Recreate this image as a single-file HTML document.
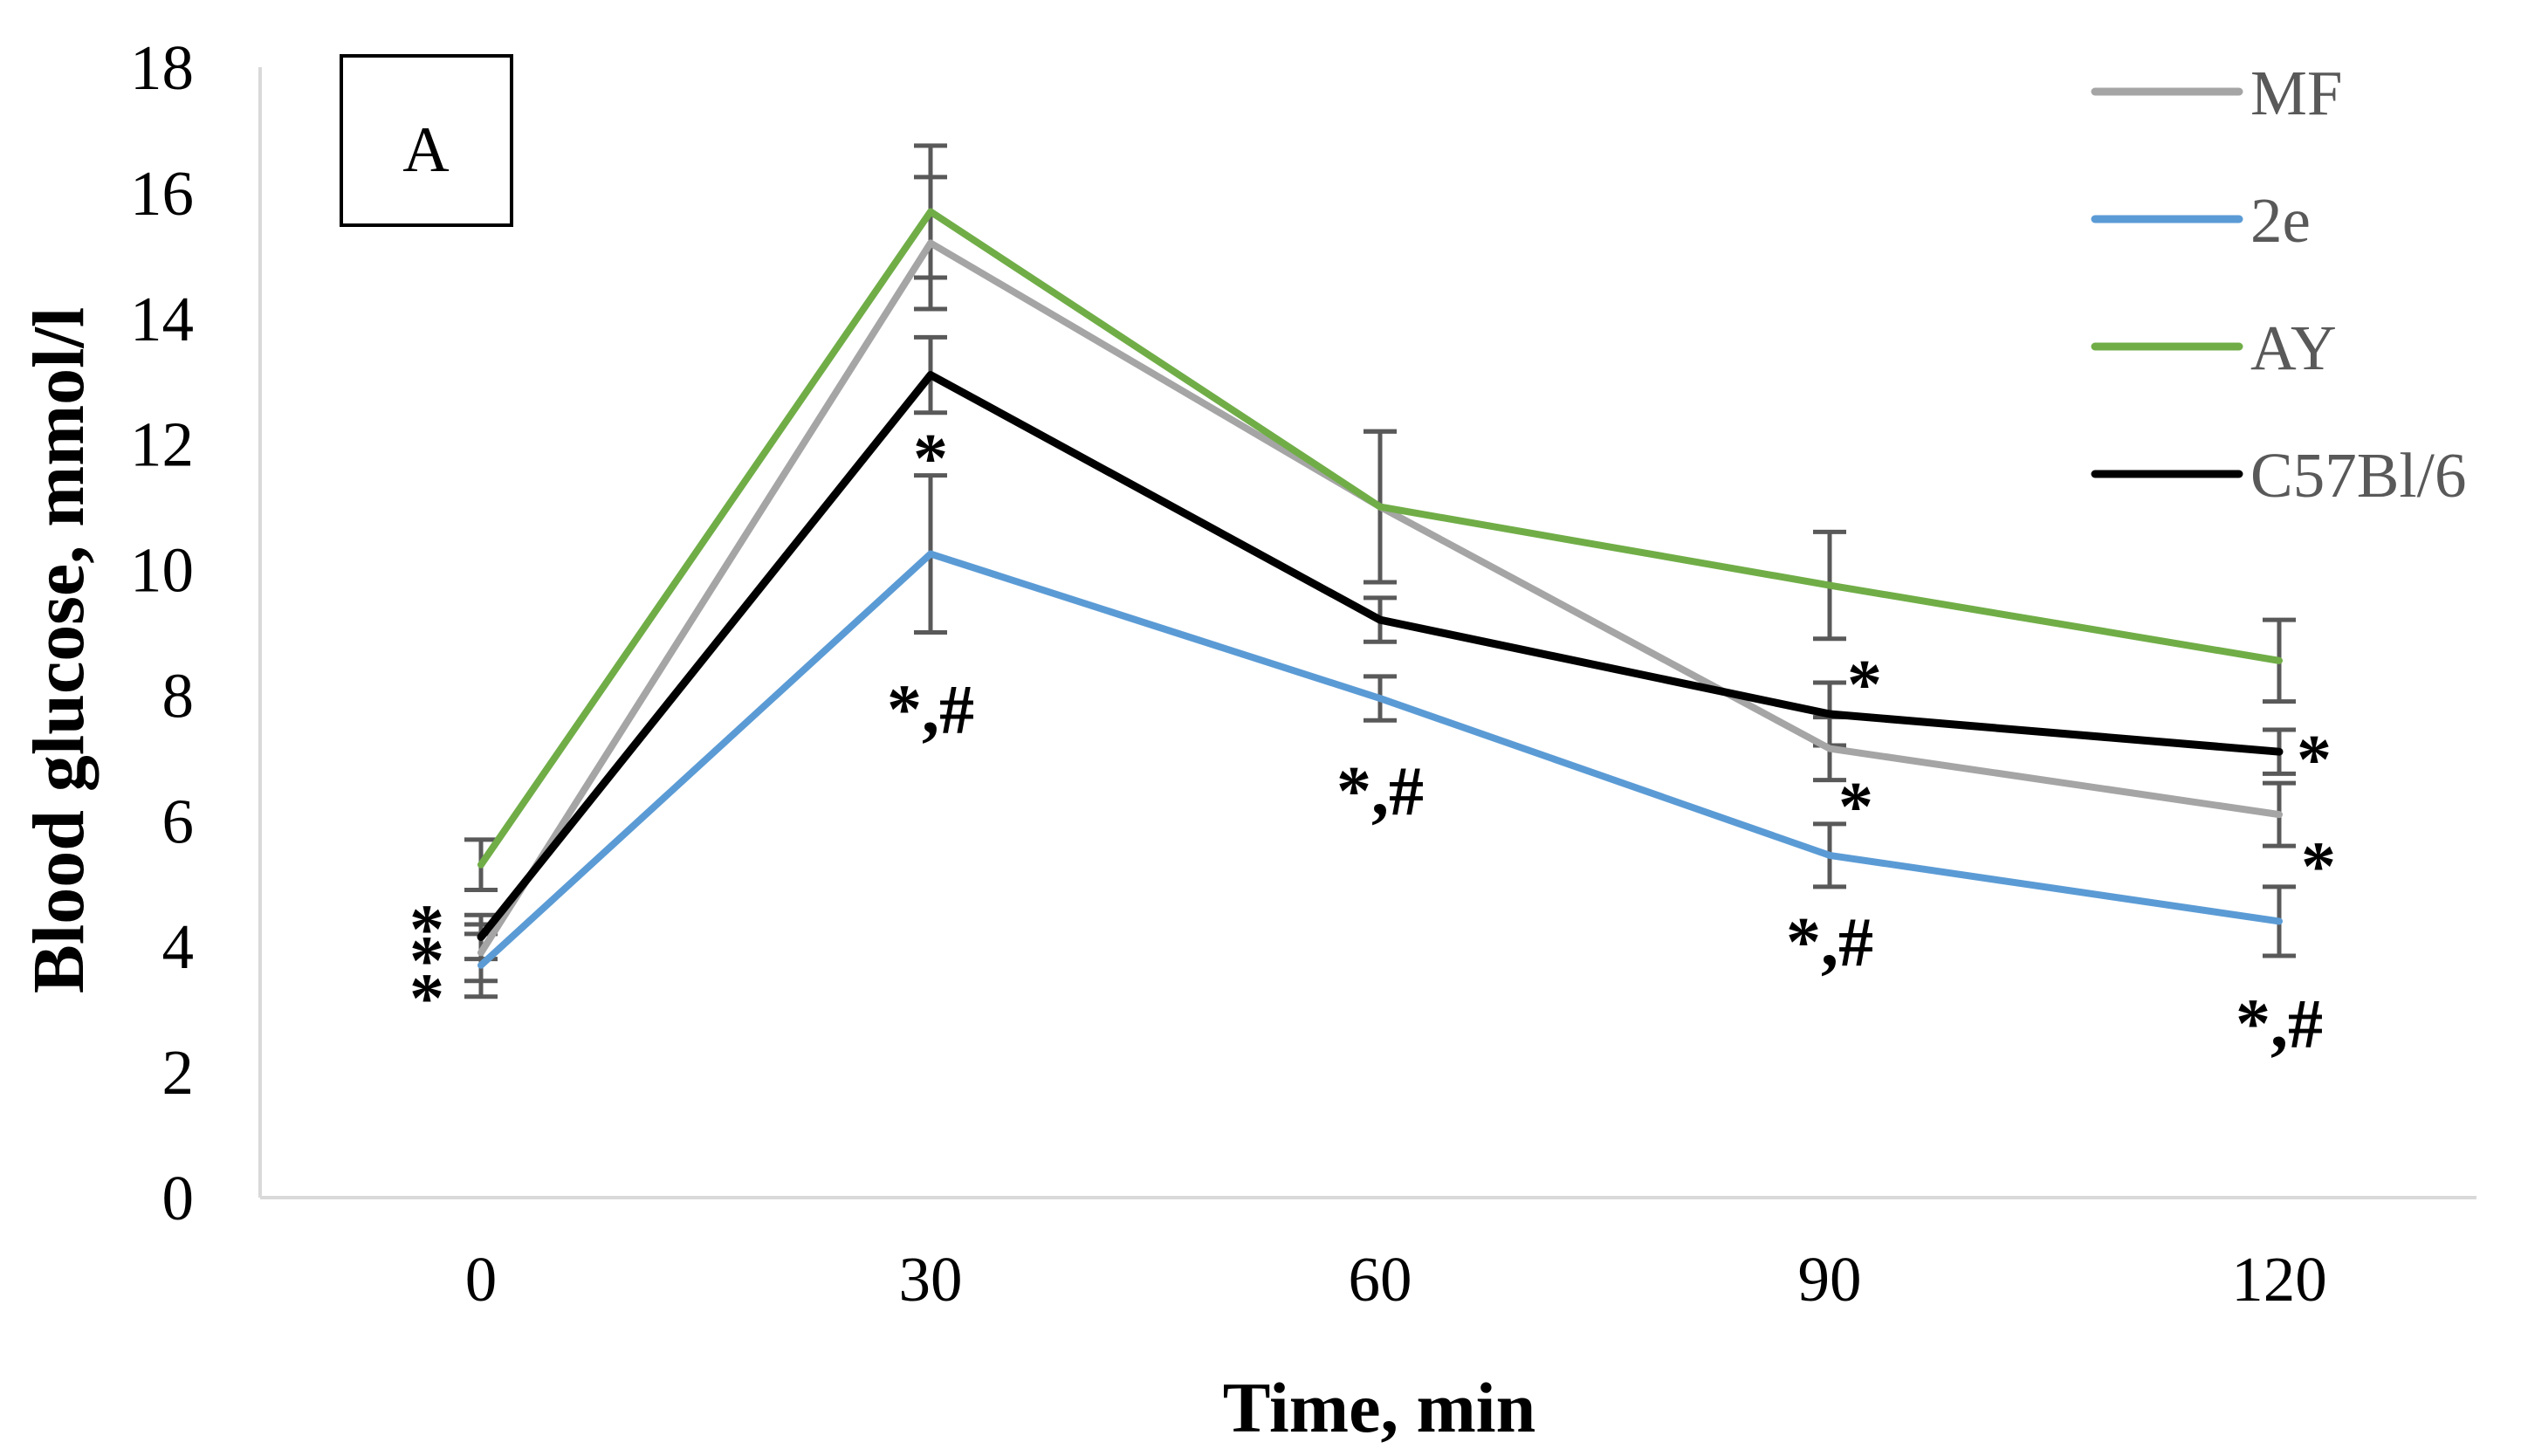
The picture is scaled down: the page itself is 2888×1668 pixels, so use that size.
<!DOCTYPE html>
<html><head><meta charset="utf-8"><style>
html,body{margin:0;padding:0;background:#fff;}
svg{display:block;font-family:"Liberation Serif",serif;}
</style></head><body>
<svg id="chart" width="2888" height="1668" viewBox="0 0 2888 1668" xmlns="http://www.w3.org/2000/svg">
<rect x="0" y="0" width="2888" height="1668" fill="#fff"/>
<g id="plot"></g>
<rect x="391" y="64" width="195" height="194" fill="none" stroke="#000" stroke-width="4"/>
<text x="488" y="196" font-size="74" text-anchor="middle">A</text>
<text x="1580" y="1640" font-size="82" font-weight="bold" text-anchor="middle">Time, min</text>
<text transform="translate(95,745) rotate(-90)" font-size="84" font-weight="bold" text-anchor="middle">Blood glucose, mmol/l</text>
</svg>
<script>
const categories = ["0","30","60","90","120"];
const yTicks = [0,2,4,6,8,10,12,14,16,18];
const seriesNames = ["MF","2e","AY","C57Bl/6"];
const seriesColors = ["#a5a5a5","#5b9bd5","#70ad47","#000000"];
const mfValues = [3.9,15.2,11.0,7.15,6.1];
const e2Values = [3.7,10.25,7.95,5.45,4.4];
const ayValues = [5.3,15.7,11.0,9.75,8.55];
const c57Values = [4.15,13.1,9.2,7.7,7.1];
const mfErr = [0.45,1.05,1.2,0.5,0.5];
const e2Err = [0.5,1.25,0.35,0.5,0.55];
const ayErr = [0.4,1.05,1.2,0.85,0.65];
const c57Err = [0.35,0.6,0.35,0.5,0.35];
const annotations = [
  {cat:0,val:4.4,text:"*"},{cat:0,val:3.9,text:"*"},{cat:0,val:3.3,text:"*"},
  {cat:1,val:11.9,text:"*"},{cat:1,val:7.9,text:"*,#"},
  {cat:2,val:6.6,text:"*,#"},
  {cat:3,val:8.3,text:"*"},{cat:3,val:6.35,text:"*"},{cat:3,val:4.2,text:"*,#"},
  {cat:4,val:7.1,text:"*"},{cat:4,val:5.4,text:"*"},{cat:4,val:2.9,text:"*,#"}
];
const annOffsets=[-62,-62,-62,0,0,0,40,30,0,40,45,0];

const NS="http://www.w3.org/2000/svg";
const X0=551, XS=515, Y0=1372, YT=77, YMAX=18, AXL=298, AXR=2837;
function xPos(i){return X0+i*XS;}
function yPos(v){return Y0-(v/YMAX)*(Y0-YT);}
const plot=document.getElementById('plot');
function mk(tag,attrs,parent){const e=document.createElementNS(NS,tag);for(const k in attrs)e.setAttribute(k,attrs[k]);(parent||plot).appendChild(e);return e;}

const yl=mk('line',{x1:AXL,y1:YT,x2:AXL,y2:Y0,stroke:'#d9d9d9','stroke-width':4});


const xl=mk('line',{x1:AXL,y1:Y0,x2:AXR,y2:Y0,stroke:'#d9d9d9','stroke-width':4});



yTicks.forEach(v=>{
  const t=mk('text',{x:222,y:yPos(v)+25,'font-size':73,'text-anchor':'end',fill:'#000'});
  t.textContent=v;
  
  
});
categories.forEach((c,i)=>{
  const t=mk('text',{x:xPos(i),y:1490,'font-size':73,'text-anchor':'middle',fill:'#000'});
  t.textContent=c;
  
  
});

const allVals=[mfValues,e2Values,ayValues,c57Values];
const allErr=[mfErr,e2Err,ayErr,c57Err];
const keys=['mf','2e','ay','c57'];
allVals.forEach((vals,s)=>{
  vals.forEach((v,i)=>{
    const g=mk('g',{});
    
    
    const x=xPos(i), a=yPos(v+allErr[s][i]), b=yPos(v-allErr[s][i]);
    mk('line',{x1:x,y1:a,x2:x,y2:b,stroke:'#595959','stroke-width':5},g);
    mk('line',{x1:x-19,y1:a,x2:x+19,y2:a,stroke:'#595959','stroke-width':5},g);
    mk('line',{x1:x-19,y1:b,x2:x+19,y2:b,stroke:'#595959','stroke-width':5},g);
  });
});
allVals.forEach((vals,s)=>{
  const p=mk('polyline',{points:vals.map((v,i)=>xPos(i)+','+yPos(v)).join(' '),fill:'none',stroke:seriesColors[s],'stroke-width':s==3?9:8,'stroke-linejoin':'round','stroke-linecap':'round'});
  
  
});
annotations.forEach((a,k)=>{
  const t=mk('text',{x:xPos(a.cat)+annOffsets[k],y:yPos(a.val)+36,'font-size':80,'font-weight':'bold','text-anchor':'middle',fill:'#000'});
  t.textContent=a.text;
  
  
});
seriesNames.forEach((n,s)=>{
  const y=105+s*146;
  const g=mk('g',{});
  
  
  mk('line',{x1:2400,y1:y,x2:2565,y2:y,stroke:seriesColors[s],'stroke-width':9,'stroke-linecap':'round'},g);
  const t=mk('text',{x:2578,y:y+26,'font-size':73,fill:'#595959'},g);
  t.textContent=n;
});
</script>
</body></html>
